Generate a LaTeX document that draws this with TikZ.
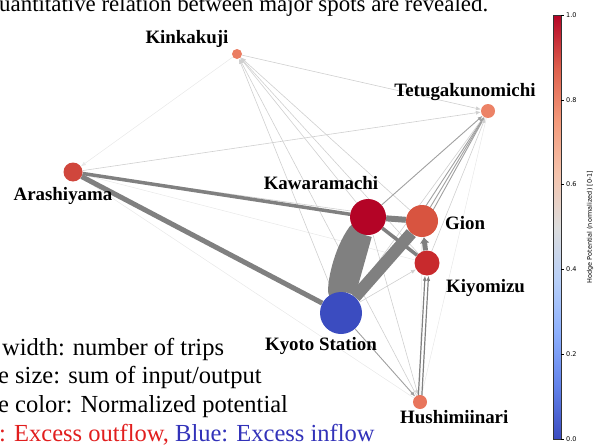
\documentclass[tikz,border=0pt]{standalone}
\usepackage{fontspec}
\setmainfont{Liberation Serif}
\newfontfamily\dejavu{DejaVu Sans}
\usetikzlibrary{arrows.meta}
\pgfdeclarelayer{edges}
\pgfsetlayers{edges,main}
\definecolor{ecol}{RGB}{128,128,128}
\definecolor{cKK}{RGB}{234,125,98}
\definecolor{cTG}{RGB}{236,130,102}
\definecolor{cAR}{RGB}{208,70,60}
\definecolor{cKW}{RGB}{180,4,38}
\definecolor{cGI}{RGB}{216,84,64}
\definecolor{cKI}{RGB}{200,42,45}
\definecolor{cKS}{RGB}{59,76,192}
\definecolor{cHU}{RGB}{232,117,92}
\definecolor{cw0}{RGB}{59,76,192}
\definecolor{cw1}{RGB}{98,130,234}
\definecolor{cw2}{RGB}{141,176,254}
\definecolor{cw3}{RGB}{184,208,249}
\definecolor{cw4}{RGB}{221,221,221}
\definecolor{cw5}{RGB}{245,196,173}
\definecolor{cw6}{RGB}{244,154,123}
\definecolor{cw7}{RGB}{222,96,77}
\definecolor{cw8}{RGB}{180,4,38}
\definecolor{legred}{RGB}{225,30,30}
\definecolor{legblue}{RGB}{50,50,185}
\begin{document}
\begin{tikzpicture}[x=1pt,y=-1pt,
  spot/.style={circle, inner sep=0pt, minimum size=#1, draw=none},
  lbl/.style={font=\fontsize{18.9}{20}\selectfont\bfseries, inner sep=0pt, anchor=base},
  legend/.style={font=\fontsize{24.5}{28}\selectfont, inner sep=0pt, anchor=base west},
  tip/.style={-{Latex[length=5pt,width=4pt]}},
  faint/.style={draw=ecol!18, line width=0.5pt},
  light/.style={draw=ecol!38, line width=0.6pt},
  mid/.style={draw=ecol!75, line width=0.9pt},
  heavy/.style={draw=ecol},
  ticklbl/.style={font=\dejavu\fontsize{6.5}{7}\selectfont, inner sep=0pt, anchor=west}
]
\useasboundingbox (0,0) rectangle (608,447);
\clip (0,0) rectangle (608,447);

% title line (cut at top)
\node[font=\fontsize{22.9}{26}\selectfont, inner sep=0pt, anchor=base west] (title) at (-1,11.5) {uantitative relation between major spots are revealed.};

% spots
\node[spot=10pt, fill=cKK] (kk) at (237,54) {};
\node[spot=14pt, fill=cTG] (tg) at (488,111) {};
\node[spot=19pt, fill=cAR] (ar) at (73,172) {};
\node[spot=36pt, fill=cKW] (kw) at (368,217) {};
\node[spot=32pt, fill=cGI] (gi) at (422,221) {};
\node[spot=25pt, fill=cKI] (ki) at (427,263) {};
\node[spot=42pt, fill=cKS] (ks) at (341,313) {};
\node[spot=14pt, fill=cHU] (hu) at (420,402) {};

% labels
\node[lbl] (lkk) at (187,43) {Kinkakuji};
\node[lbl] (ltg) at (465,96) {Tetugakunomichi};
\node[lbl] (lar) at (63,200) {Arashiyama};
\node[lbl] (lkw) at (321,189) {Kawaramachi};
\node[lbl, anchor=base west] (lgi) at (445,229) {Gion};
\node[lbl, anchor=base west] (lki) at (446,292) {Kiyomizu};
\node[lbl] (lks) at (321,350) {Kyoto Station};
\node[lbl, anchor=base west] (lhu) at (400,423) {Hushimiinari};

% edges
\begin{pgfonlayer}{edges}
% very faint
\draw[faint, tip] (kk) -- (ar);
\draw[faint] (ar) -- (hu);
\draw[faint] (ar) -- (ki);
\draw[faint] (gi) -- (hu);
\draw[faint] (tg) -- (hu);
% light
\draw[light, tip] (kk) -- (tg);
\draw[light, tip] (ar) -- (tg);
\draw[light] (ar) -- (gi);
\draw[light, tip] (kw) -- (kk);
\draw[light, tip] (gi) -- (kk);
\draw[light, tip] (ki) -- (kk);
\draw[light, tip] (ks) -- (kk);
\draw[light, tip] (hu) -- (kk);
\draw[light, tip] (ks) -- (tg);
\draw[light, tip] (kw) -- (hu);
\draw[light, tip] (ks) -- (ki);
% medium
\draw[mid, tip] (kw) -- (tg);
\draw[mid, tip] (gi) -- (tg);
\draw[mid, tip] ([xshift=5pt]gi.center) -- (tg);
\draw[mid, tip] ([xshift=-6pt]gi.center) -- (tg);
\draw[light, tip] (ki) -- (tg);
\draw[mid, tip] (ks) -- (hu);
\draw[heavy, line width=1.2pt, tip] ([xshift=-2pt]hu.center) -- ([xshift=-2pt]ki.south);
\draw[heavy, line width=1.2pt, tip] ([xshift=1.5pt]hu.center) -- ([xshift=1.5pt]ki.south);
% heavy
\draw[heavy, line width=3.5pt] (ar) -- (kw);
\draw[heavy, line width=5pt] (ar) -- (ks);
\draw[heavy, line width=3.5pt] (kw) -- (ki);
\draw[heavy, line width=6pt] (kw) -- (gi);
\draw[heavy, line width=5pt, -{Latex[length=6pt,width=10pt]}] (ki) -- (gi);
\draw[heavy, line width=12pt] (gi) -- (ks);
\draw[heavy, line width=18pt] (kw) -- (ks);
\draw[heavy, line width=18pt, line cap=round] (ks) .. controls (336,285) and (342,252) .. (kw);
\end{pgfonlayer}

% legend text
\node[legend] (leg1) at (2,355) {width: number of trips};
\node[legend] (leg2) at (-2,383.5) {e size: sum of input/output};
\node[legend] (leg3) at (-2,412) {e color: Normalized potential};
\node[legend] (leg4) at (-1,441) {\textcolor{legred}{: Excess outflow,} \textcolor{legblue}{Blue: Excess inflow}};

% colorbar
\shade[bottom color=cw0, top color=cw1] (553,439) rectangle (561,386);
\shade[bottom color=cw1, top color=cw2] (553,386) rectangle (561,333);
\shade[bottom color=cw2, top color=cw3] (553,333) rectangle (561,280);
\shade[bottom color=cw3, top color=cw4] (553,280) rectangle (561,227);
\shade[bottom color=cw4, top color=cw5] (553,227) rectangle (561,174);
\shade[bottom color=cw5, top color=cw6] (553,174) rectangle (561,121);
\shade[bottom color=cw6, top color=cw7] (553,121) rectangle (561,68);
\shade[bottom color=cw7, top color=cw8] (553,68) rectangle (561,15);
\draw[line width=0.4pt, black!80] (553,15) rectangle (561,439);
\foreach \v/\yy in {0.0/439,0.2/354.2,0.4/269.4,0.6/184.6,0.8/99.8,1.0/15}{
  \draw[line width=0.5pt] (561,\yy) -- (564,\yy);
  \node[ticklbl] at (566,\yy) {\v};
}
\node[font=\dejavu\fontsize{6.5}{7}\selectfont, rotate=90, inner sep=0pt] (cblabel) at (590,227) {Hodge Potential (normalized) [0-1]};
\end{tikzpicture}
\end{document}
